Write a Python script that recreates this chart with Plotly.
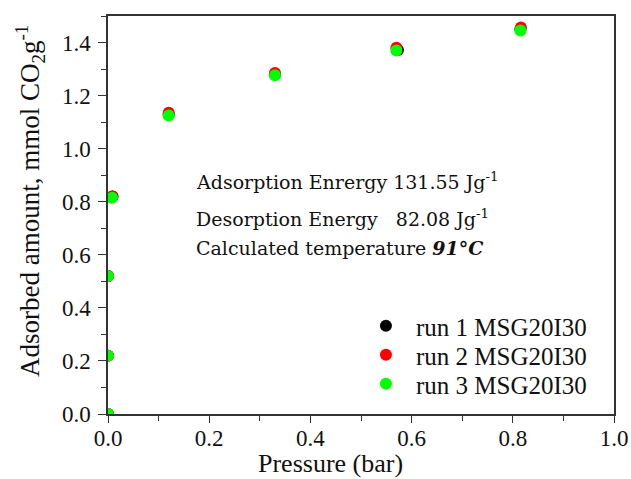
import plotly.graph_objects as go

pressure_run1 = [0.0, 0.0, 0.0, 0.009, 0.12, 0.33, 0.573, 0.815]
pressure_run2 = [0.0, 0.0, 0.0, 0.008, 0.12, 0.33, 0.57, 0.816]
pressure_run3 = [0.0, 0.0, 0.0, 0.008, 0.12, 0.33, 0.57, 0.815]
ads_run1 = [0.0, 0.22, 0.52, 0.82, 1.13, 1.28, 1.372, 1.45]
ads_run2 = [0.0, 0.22, 0.52, 0.82, 1.135, 1.285, 1.38, 1.457]
ads_run3 = [0.0, 0.22, 0.52, 0.815, 1.125, 1.277, 1.37, 1.445]
run_names = ["run 1 MSG20I30", "run 2 MSG20I30", "run 3 MSG20I30"]
run_colors = ["#000000", "#ff0000", "#00ff00"]

xs = [pressure_run1, pressure_run2, pressure_run3]
ys = [ads_run1, ads_run2, ads_run3]
legend_ids = ["legend", "legend2", "legend3"]
legend_rows_px = [326, 355, 384]

font_t = "Liberation Serif, Times New Roman, serif"

fig = go.Figure()
for x, y, n, c, lg in zip(xs, ys, run_names, run_colors, legend_ids):
    fig.add_trace(go.Scatter(x=x, y=y, mode="markers", name=n, legend=lg,
                             marker=dict(color=c, size=12, line=dict(width=0))))

axis_common = dict(showline=True, linecolor="#333333", linewidth=1.5, mirror=True,
                   ticks="outside", tickwidth=1.2, tickcolor="#333333",
                   showgrid=False, zeroline=False, automargin=False,
                   tickfont=dict(family=font_t, size=23, color="#111111"),
                   minor=dict(ticks="outside", ticklen=5, tickwidth=1.2, tickcolor="#333333", dtick=0.1))

fig.update_xaxes(range=[0, 1.0], dtick=0.2, tickformat=".1f", ticklen=7,
                 ticklabelstandoff=-4, **axis_common)
fig.update_yaxes(range=[0, 1.5], dtick=0.2, tickformat=".1f", ticklen=8,
                 ticklabelstandoff=3, **axis_common)

PW, PH = 506.0, 398.0
fig.add_annotation(x=(330 - 108) / PW, y=(414 - 463) / PH, xref="paper", yref="paper",
                   text="Pressure (bar)", showarrow=False, xanchor="center", yanchor="middle",
                   font=dict(family=font_t, size=26, color="#111111"))
fig.add_annotation(x=(30 - 108) / PW, y=(414 - 201) / PH, xref="paper", yref="paper",
                   text="Adsorbed amount, mmol CO<sub>2</sub>g<sup>-1</sup>", textangle=-90,
                   showarrow=False, xanchor="center", yanchor="middle",
                   font=dict(family=font_t, size=27, color="#111111"))

font_a = dict(family="DejaVu Serif, serif", size=19, color="#111111")
ann = [
    ("Adsorption Enrergy 131.55 Jg<sup>-1</sup>", 1.5 - (181 - 16) / 265.0),
    ("Desorption Energy   82.08 Jg<sup>-1</sup>", 1.5 - (218 - 16) / 265.0),
    ("Calculated temperature <b><i>91°C</i></b>", 1.5 - (248 - 16) / 265.0),
]
for txt, yv in ann:
    fig.add_annotation(x=(194 - 108) / 506.0, y=yv, xref="x", yref="y", text=txt,
                       showarrow=False, xanchor="left", yanchor="middle", font=font_a)

leg_common = dict(x=0.49, xanchor="left", yanchor="middle",
                  font=dict(family=font_t, size=25, color="#111111"),
                  itemwidth=50, bgcolor="rgba(0,0,0,0)")
fig.update_layout(
    width=631, height=479,
    margin=dict(l=108, r=17, t=16, b=65),
    plot_bgcolor="white", paper_bgcolor="white",
    legend=dict(y=(414 - legend_rows_px[0]) / PH, **leg_common),
    legend2=dict(y=(414 - legend_rows_px[1]) / PH, **leg_common),
    legend3=dict(y=(414 - legend_rows_px[2]) / PH, **leg_common),
    showlegend=True,
)
fig.write_html("out.html")
